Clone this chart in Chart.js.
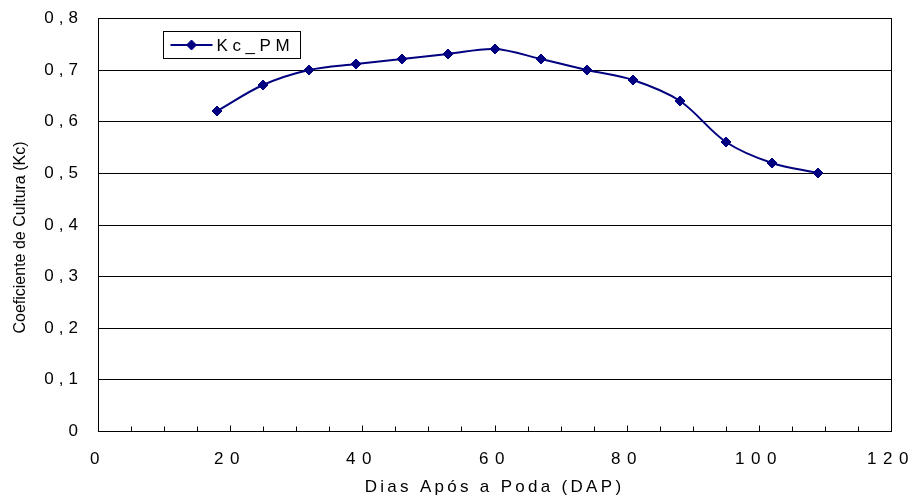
<!DOCTYPE html>
<html>
<head>
<meta charset="utf-8">
<script src="https://cdn.jsdelivr.net/npm/chart.js@4.4.1/dist/chart.umd.min.js"></script>
<style>
  html,body{margin:0;background:#fff}
  #wrap{width:910px;height:498px;position:relative}
</style>
</head>
<body>
<div id="wrap"><canvas id="grafico"></canvas></div>
<script>
/* dados */
const dias  = [18, 25, 32, 39, 46, 53, 60, 67, 74, 81, 88, 95, 102, 109];
const kcPM  = [0.62, 0.67, 0.70, 0.71, 0.72, 0.73, 0.74, 0.72, 0.70, 0.68, 0.64, 0.56, 0.52, 0.50];
const xMin = 0, xMax = 120, xPasso = 20, xMenor = 5;
const yMin = 0, yMax = 0.8, yPasso = 0.1;
const nomeSerie = 'Kc_PM';
const tituloX = 'Dias Após a Poda (DAP)';
const tituloY = 'Coeficiente de Cultura (Kc)';

const AZUL = '#000080';
const fonte = 'Arial, "Liberation Sans", sans-serif';

/* espaçamento de letras (canvas letterSpacing) em métodos da escala */
function espacar(fn, sp, dy){
  return function(...a){
    const ctx = this.ctx;
    ctx.save();
    ctx.letterSpacing = sp;
    if(dy) ctx.translate(0, dy);
    fn.apply(this, a);
    ctx.restore();
  };
}

const moldura = {
  id:'moldura',
  beforeDraw(ch){
    const x = ch.scales.x, y = ch.scales.y;
    if(!x._esp){
      x.drawLabels = espacar(x.drawLabels, '6.5px');
      x.drawTitle  = espacar(x.drawTitle, '3.3px');
      x._esp = true;
    }
    if(!y._esp){
      y.drawLabels = espacar(y.drawLabels, '5px');
      y.drawTitle  = espacar(y.drawTitle, '0px', 13);
      y._esp = true;
    }
  },
  afterDraw(ch){
    const ctx = ch.ctx, a = ch.chartArea, sx = ch.scales.x;
    ctx.save();
    ctx.strokeStyle = '#000';
    ctx.lineWidth = 1;
    // caixa da área de plotagem
    ctx.strokeRect(Math.round(a.left)+0.5, Math.round(a.top)+0.5,
                   Math.round(a.right-a.left), Math.round(a.bottom-a.top));
    // marcas internas no eixo x
    const base = Math.round(a.bottom)+0.5;
    ctx.beginPath();
    for(let v = xMin; v <= xMax; v += xMenor){
      const px = Math.round(sx.getPixelForValue(v))+0.5;
      const len = (v % xPasso === 0) ? 6 : 5;
      ctx.moveTo(px, base);
      ctx.lineTo(px, base-len);
    }
    ctx.stroke();

    // legenda
    const lx = a.left + 65.5, ly = a.top + 13.5, lw = 137, lh = 27;
    ctx.fillStyle = '#fff';
    ctx.fillRect(lx, ly, lw, lh);
    ctx.strokeStyle = '#000';
    ctx.strokeRect(lx, ly, lw, lh);
    const cy = ly + lh/2;
    ctx.strokeStyle = AZUL;
    ctx.lineWidth = 2;
    ctx.beginPath();
    ctx.moveTo(lx+7, cy);
    ctx.lineTo(lx+49, cy);
    ctx.stroke();
    ctx.fillStyle = AZUL;
    ctx.lineWidth = 1;
    Chart.helpers.drawPoint(ctx, {pointStyle:'rectRot', radius:5, borderWidth:1}, lx+28, cy);
    ctx.fillStyle = '#000';
    ctx.font = '17px ' + fonte;
    ctx.textBaseline = 'middle';
    ctx.letterSpacing = '4.6px';
    ctx.fillText(nomeSerie, lx+53, cy+1);
    ctx.restore();
  }
};

new Chart(document.getElementById('grafico'), {
  type:'line',
  data:{
    datasets:[{
      label:nomeSerie,
      data:dias.map((d,i)=>({x:d, y:kcPM[i]})),
      borderColor:AZUL,
      backgroundColor:AZUL,
      borderWidth:2,
      pointStyle:'rectRot',
      pointRadius:5,
      pointBorderWidth:1,
      pointBackgroundColor:AZUL,
      pointBorderColor:AZUL,
      tension:0.33,
      fill:false
    }]
  },
  options:{
    responsive:true,
    maintainAspectRatio:false,
    animation:false,
    layout:{padding:{left:0, top:18, right:19, bottom:0}},
    plugins:{legend:{display:false}, tooltip:{enabled:false}},
    scales:{
      x:{
        type:'linear', min:xMin, max:xMax,
        alignToPixels:true,
        afterFit(s){ s.height = 67; s.paddingLeft = 0; s.paddingRight = 0; },
        grid:{display:false, drawTicks:false},
        border:{display:true, color:'#000', width:1},
        ticks:{stepSize:xPasso, padding:18, color:'#000',
               font:{family:fonte, size:17}, maxRotation:0,
               callback:v => String(v)},
        title:{display:true, text:tituloX, color:'#000',
               font:{family:fonte, size:17}, padding:{top:0, bottom:0}}
      },
      y:{
        min:yMin, max:yMax,
        alignToPixels:true,
        afterFit(s){ s.width = 98; s.paddingTop = 0; s.paddingBottom = 0; },
        grid:{color:'#000', lineWidth:1, drawTicks:false},
        border:{display:true, color:'#000', width:1},
        ticks:{stepSize:yPasso, padding:15, color:'#000',
               font:{family:fonte, size:17},
               callback:v => v === 0 ? '0' : v.toFixed(1).replace('.', ',')},
        title:{display:true, text:tituloY, color:'#000',
               font:{family:fonte, size:16}, padding:{top:11, bottom:0}}
      }
    }
  },
  plugins:[moldura]
});
</script>
</body>
</html>
